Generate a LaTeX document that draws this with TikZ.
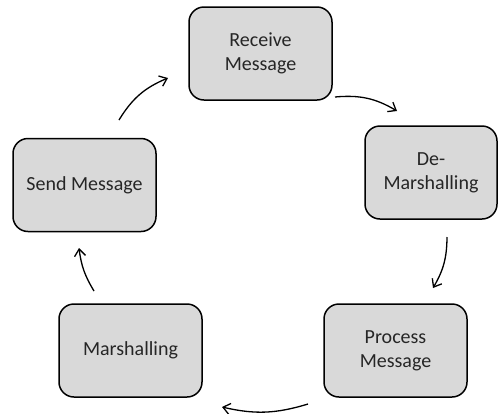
\documentclass[tikz,border=0pt]{standalone}
\usepackage{fontspec}
\setmainfont{Carlito}
\usetikzlibrary{arrows.meta}
\begin{document}
\begin{tikzpicture}[x=1pt,y=-1pt,
  stepbox/.style={draw=black,line width=1.5pt,fill=boxgray,rounded corners=15pt,
    minimum width=143pt,minimum height=93pt,align=center,inner sep=2pt,
    font=\fontsize{20}{24}\selectfont,text=textgray},
  flow/.style={line width=1.3pt,-{Straight Barb[length=7pt,width=11pt,line width=1.3pt]}}]
\definecolor{boxgray}{HTML}{D9D9D9}
\definecolor{textgray}{HTML}{262626}
\useasboundingbox (0,0) rectangle (498,413);
% the five stages of the cycle
\node[stepbox] (recv) at (260.5,53.5) {Receive\\Message};
\node[stepbox,minimum width=132pt] (demar) at (431,172.5) {De-\\Marshalling};
\node[stepbox] (proc) at (395.5,350.5) {Process\\Message};
\node[stepbox] (mar) at (130.5,350.5) {Marshalling};
\node[stepbox] (send) at (84.5,185) {Send Message};
% arrow end points between the stages
\coordinate (a1) at (119,120);  \coordinate (b1) at (168,78);
\coordinate (a2) at (335,97);   \coordinate (b2) at (397,111);
\coordinate (a3) at (447,237);  \coordinate (b3) at (433,288);
\coordinate (a4) at (308,404);  \coordinate (b4) at (222,407);
\coordinate (a5) at (94,291);   \coordinate (b5) at (79,248);
\draw[flow] (a1) to[bend left=18] (b1);
\draw[flow] (a2) to[bend left=18] (b2);
\draw[flow] (a3) to[bend left=15] (b3);
\draw[flow] (a4) to[bend left=15] (b4);
\draw[flow] (a5) to[bend left=12] (b5);
\end{tikzpicture}
\end{document}
